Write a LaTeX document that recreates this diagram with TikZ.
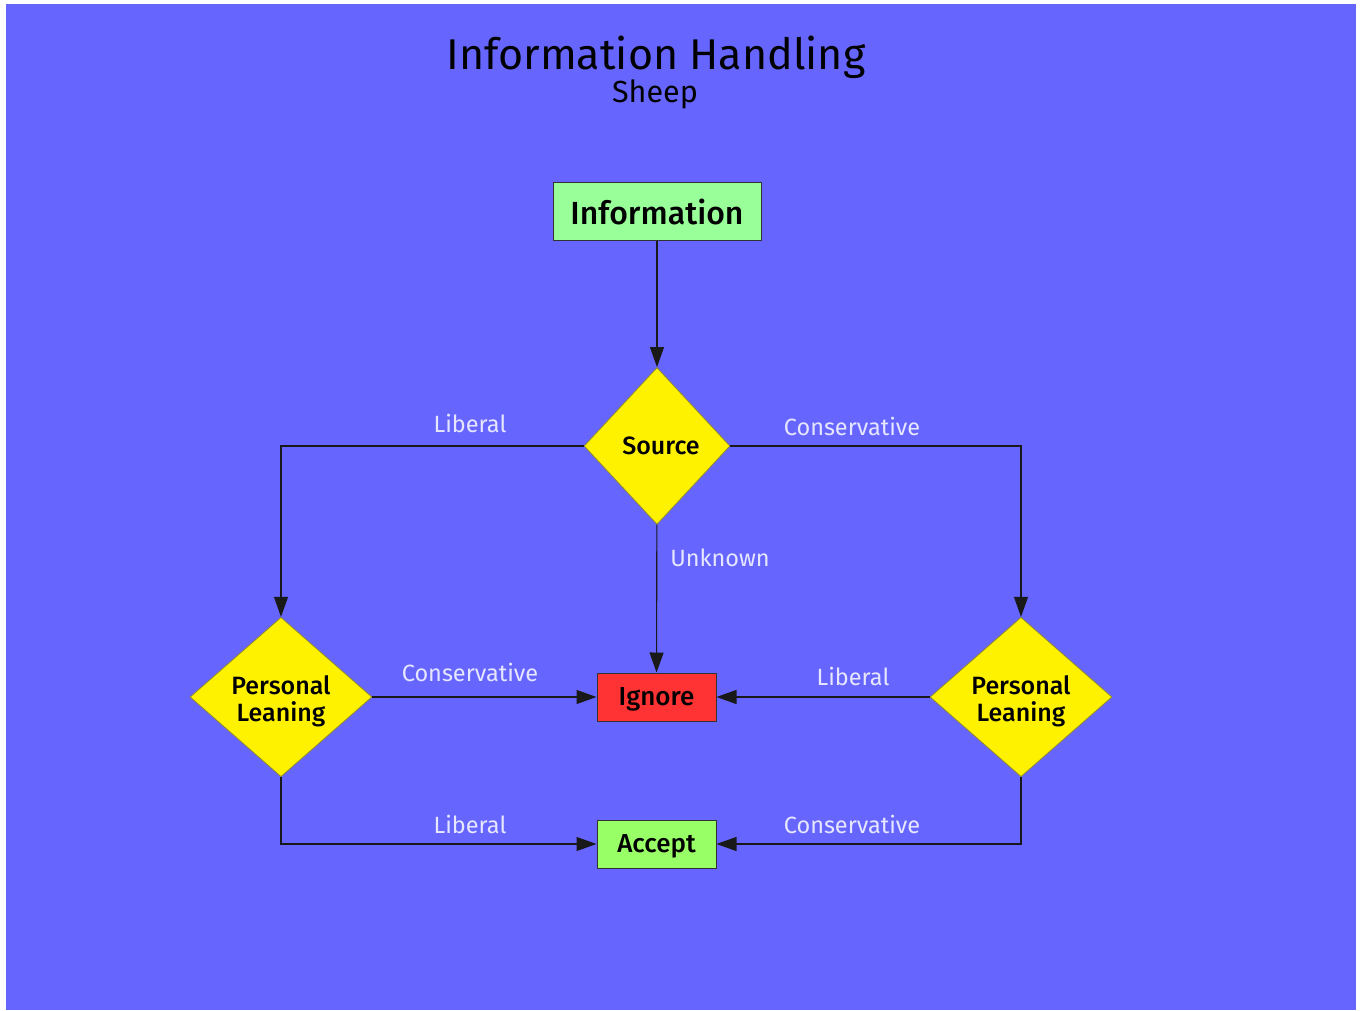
\documentclass[tikz,border=0pt]{standalone}
\usepackage{fontspec}
\setmainfont{Fira Sans}
\newfontfamily\medfont{Fira Sans Medium}
\usetikzlibrary{shapes,
        arrows.meta}
\usepackage{xcolor}
\definecolor{bgblue}{HTML}{6666FF}
\definecolor{infogreen}{HTML}{99FF99}
\definecolor{accgreen}{HTML}{99FF66}
\definecolor{ignred}{HTML}{FF3333}
\definecolor{lblcol}{HTML}{E6E6FF}

\begin{document}
\begin{tikzpicture}[x=1pt,y=-1pt,
        box/.style={rectangle,draw=black!80,line width=1pt,inner sep=0pt,
                font=\medfont\fontsize{26}{29}\selectfont},
        choice/.style={diamond,draw=olive!70!gray,fill=yellow,line width=0.8pt,inner sep=0pt,
                align=center,font=\medfont\fontsize{25}{27}\selectfont},
        lbl/.style={text=lblcol,inner sep=0pt,anchor=base,font=\fontsize{23.5}{27}\selectfont},
        arr/.style={draw=black!90,line width=1.1pt,-{Triangle[length=20pt,width=14pt]}}]
        \fill[white] (0,0) rectangle (1362,1011);
        \fill[bgblue] (6,4) rectangle (1356,1010);

        \node [anchor=base,inner sep=0pt,font=\fontsize{43}{50}\selectfont] (t) at (656,70) {Information Handling};
        \node [anchor=base,inner sep=0pt,font=\fontsize{30.5}{34}\selectfont] (s) at (655,103) {Sheep};

        \node [box,fill=infogreen,minimum width=208pt,minimum height=57pt,font=\medfont\fontsize{32}{36}\selectfont] (1) at (657,211.5) {Information};
        \node [choice,minimum width=146pt,minimum height=157pt] (2) at (657,446) {\hspace*{8pt}Source};
        \node [choice,minimum width=182pt,minimum height=157pt] (3) at (281,697) {\rule{0pt}{28pt}Personal\\Leaning};
        \node [choice,minimum width=182pt,minimum height=157pt] (4) at (1021,697) {\rule{0pt}{28pt}Personal\\Leaning};
        \node [box,fill=ignred,minimum width=119pt,minimum height=48pt] (5) at (656.5,697) {\rule{0pt}{22pt}Ignore};
        \node [box,fill=accgreen,minimum width=119pt,minimum height=48pt] (6) at (656.5,844) {\rule{0pt}{22pt}Accept};

        \draw [arr] (1) -- (2);
        \draw [arr] (2.west) -| (3.north);
        \draw [arr] (2.east) -| (4.north);
        \draw [arr] (2) -- (5);
        \draw [arr] (3) -- (5);
        \draw [arr] (4) -- (5);
        \draw [arr] (3.south) |- (6.west);
        \draw [arr] (4.south) |- (6.east);

        \node [lbl] (l1) at (470,432) {Liberal};
        \node [lbl] (l2) at (852,435) {Conservative};
        \node [lbl] (l3) at (720,566) {Unknown};
        \node [lbl] (l4) at (470,681) {Conservative};
        \node [lbl] (l5) at (853,685) {Liberal};
        \node [lbl] (l6) at (470,833) {Liberal};
        \node [lbl] (l7) at (852,833) {Conservative};
    \end{tikzpicture}
\end{document}
